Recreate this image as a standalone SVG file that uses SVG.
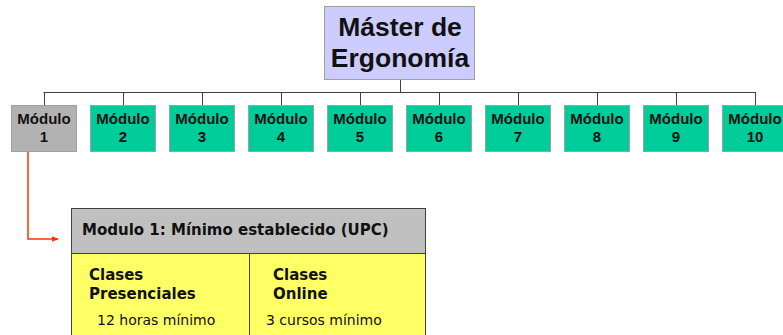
<svg xmlns="http://www.w3.org/2000/svg" width="783" height="335" viewBox="0 0 783 335">
<style>
.mod{fill:#00cc99;stroke:#a0a0a0;stroke-width:1}
.mt{font-family:"Liberation Sans",Arial,sans-serif;font-weight:bold;font-size:15px;fill:#111;text-anchor:middle}
.conn{stroke:#404040;stroke-width:1;fill:none}
.vb{font-family:"DejaVu Sans",Verdana,sans-serif;font-weight:bold;font-size:15px;fill:#111}
.vr{font-family:"DejaVu Sans",Verdana,sans-serif;font-size:14px;fill:#111}
</style>
<defs>
<marker id="ah" viewBox="0 0 10 10" refX="9" refY="5" markerWidth="7" markerHeight="7" orient="auto" markerUnits="userSpaceOnUse">
<path d="M0,1 L10,5 L0,9 z" fill="#ff3300"/>
</marker>
</defs>
<rect width="783" height="335" fill="#ffffff"/>
<g id="connectors">
<path class="conn" d="M400.5,80 V92.5 M43.5,92.5 H755.5 M44.5,92 V105 M123.5,92 V105 M202.5,92 V105 M281.5,92 V105 M360.5,92 V105 M439.5,92 V105 M518.5,92 V105 M597.5,92 V105 M676.5,92 V105 M755.5,92 V105"/>
<path d="M28,152 V239 H58" stroke="#ff3300" stroke-width="1.5" fill="none" marker-end="url(#ah)"/>
</g>
<g id="master">
<rect x="324.5" y="6.5" width="150" height="73" fill="#ccccff" stroke="#a0a0a0"/>
<text x="400" y="36" font-family="'Liberation Sans',Arial,sans-serif" font-weight="bold" font-size="26.5" text-anchor="middle" fill="#111">Máster de</text>
<text x="400" y="67" font-family="'Liberation Sans',Arial,sans-serif" font-weight="bold" font-size="26.5" text-anchor="middle" fill="#111">Ergonomía</text>
</g>
<g id="mod1"><rect x="11.5" y="105.5" width="65" height="46" fill="#b2b2b2" stroke="#a0a0a0"/><text class="mt" x="44" y="124">Módulo</text><text class="mt" x="44" y="142">1</text></g>
<g id="mod2"><rect class="mod" x="90.5" y="105.5" width="65" height="46"/><text class="mt" x="123" y="124">Módulo</text><text class="mt" x="123" y="142">2</text></g>
<g id="mod3"><rect class="mod" x="169.5" y="105.5" width="65" height="46"/><text class="mt" x="202" y="124">Módulo</text><text class="mt" x="202" y="142">3</text></g>
<g id="mod4"><rect class="mod" x="248.5" y="105.5" width="65" height="46"/><text class="mt" x="281" y="124">Módulo</text><text class="mt" x="281" y="142">4</text></g>
<g id="mod5"><rect class="mod" x="327.5" y="105.5" width="65" height="46"/><text class="mt" x="360" y="124">Módulo</text><text class="mt" x="360" y="142">5</text></g>
<g id="mod6"><rect class="mod" x="406.5" y="105.5" width="65" height="46"/><text class="mt" x="439" y="124">Módulo</text><text class="mt" x="439" y="142">6</text></g>
<g id="mod7"><rect class="mod" x="485.5" y="105.5" width="65" height="46"/><text class="mt" x="518" y="124">Módulo</text><text class="mt" x="518" y="142">7</text></g>
<g id="mod8"><rect class="mod" x="564.5" y="105.5" width="65" height="46"/><text class="mt" x="597" y="124">Módulo</text><text class="mt" x="597" y="142">8</text></g>
<g id="mod9"><rect class="mod" x="643.5" y="105.5" width="65" height="46"/><text class="mt" x="676" y="124">Módulo</text><text class="mt" x="676" y="142">9</text></g>
<g id="mod10"><rect class="mod" x="722.5" y="105.5" width="65" height="46"/><text class="mt" x="755" y="124">Módulo</text><text class="mt" x="755" y="142">10</text></g>
<g id="table">
<rect x="71.5" y="253.5" width="354" height="90" fill="#ffff66" stroke="#404040"/>
<rect x="71.5" y="208.5" width="354" height="45" fill="#c0c0c0" stroke="#404040"/>
<line x1="249.5" y1="253" x2="249.5" y2="335" stroke="#404040"/>
<text class="vb" x="82" y="235">Modulo 1: Mínimo establecido (UPC)</text>
<text class="vb" x="89" y="280">Clases</text>
<text class="vb" x="89" y="299">Presenciales</text>
<text class="vr" x="97" y="325">12 horas mínimo</text>
<text class="vb" x="273" y="280">Clases</text>
<text class="vb" x="273" y="299">Online</text>
<text class="vr" x="266" y="325">3 cursos mínimo</text>
</g>
</svg>
